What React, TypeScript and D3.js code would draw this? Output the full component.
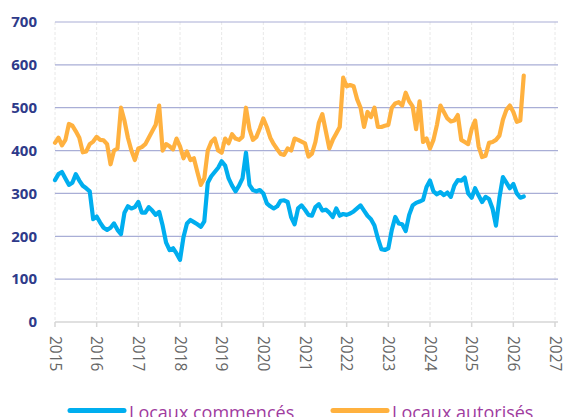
import React from "react";
import * as d3 from "d3";

// Monthly series, starting January 2015
const startYear = 2015;

const commences: number[] = [
    331, 345, 350, 335, 320, 325, 345, 330, 318, 312, 305, 240,
    246, 232, 220, 215, 220, 230, 215, 205, 255, 270, 265, 268,
    280, 255, 255, 268, 260, 250, 257, 225, 185, 168, 172, 160,
    145, 198, 230, 238, 233, 228, 222, 235, 325, 340, 350, 360,
    375, 365, 335, 318, 305, 318, 335, 395, 320, 308, 305, 308,
    300, 277, 270, 265, 270, 283, 284, 280, 245, 228, 265, 272,
    262, 250, 248, 268, 275, 260, 262, 255, 245, 265, 248, 252,
    250, 253, 258, 265, 272, 260, 248, 240, 225, 195, 170, 168,
    172, 215, 245, 230, 228, 212, 250, 272, 278, 281, 285, 315,
    330, 305, 298, 303, 296, 302, 292, 318, 331, 330, 337, 300,
    290, 312, 295, 280, 292, 287, 265, 225, 290, 338, 325, 312,
    322, 300, 290, 293,
];

const autorises: number[] = [
    418, 430, 412, 425, 462, 458, 445, 430, 396, 398, 415, 421,
    432, 425, 424, 415, 368, 400, 405, 500, 470, 430, 400, 378,
    405, 408, 415, 430, 445, 460, 505, 400, 415, 410, 403, 428,
    410, 382, 398, 378, 382, 350, 320, 335, 400, 420, 428, 400,
    395, 428, 417, 438, 428, 425, 432, 500, 450, 425, 432, 452,
    475, 455, 430, 415, 403, 392, 390, 405, 400, 428, 425, 421,
    417, 386, 393, 420, 465, 485, 445, 405, 425, 440, 455, 570,
    550, 553, 550, 520, 500, 455, 490, 478, 500, 455, 455, 458,
    460, 500, 510, 513, 505, 535, 515, 503, 450, 515, 420, 428,
    405, 425, 460, 505, 490, 475, 468, 470, 483, 425, 420, 415,
    450, 470, 410, 385, 388, 418, 420, 425, 435, 472, 495, 505,
    490, 467, 470, 575,
];

const yTicks = [0, 100, 200, 300, 400, 500, 600, 700];
const xTicks = d3.range(2015, 2028);

const seriesNames = ["Locaux commencés", "Locaux autorisés"];
const seriesColors = ["#00aeef", "#ffb13f"];

const W = 565;
const H = 417;

export default function App() {
    const x = d3.scaleLinear().domain([2015, 2027]).range([55, 555]);
    const y = d3.scaleLinear().domain([0, 700]).range([322, 22]);

    const line = d3.line<number>()
        .x((_, i) => x(startYear + i / 12))
        .y(d => y(d))
        .curve(d3.curveLinear);

    const series = [commences, autorises];

    return (
        <div style={{ position: "absolute", left: 0, top: 0 }}>
            <svg width={W} height={H} style={{ display: "block", background: "#fff" }}>
                {/* vertical year grid */}
                {xTicks.map(t => (
                    <line key={"v" + t} x1={x(t)} x2={x(t)} y1={y(700)} y2={y(0)}
                        stroke="#e8e8e8" strokeWidth={1} strokeDasharray="3,2" />
                ))}
                {/* horizontal grid */}
                {yTicks.map(t => (
                    <line key={"h" + t} x1={x(2015)} x2={x(2027) + 3} y1={y(t)} y2={y(t)}
                        stroke={t === 0 ? "#d6d6d6" : "#a9aed6"} strokeWidth={t === 0 ? 1.5 : 1.2} />
                ))}
                {/* x tick marks */}
                {xTicks.map(t => (
                    <line key={"t" + t} x1={x(t)} x2={x(t)} y1={y(0)} y2={y(0) + 5}
                        stroke="#d6d6d6" strokeWidth={1.5} />
                ))}
                {/* y labels */}
                {yTicks.map(t => (
                    <text key={"yl" + t} x={37} y={y(t)} dy="0.35em" textAnchor="end"
                        fontFamily="'Open Sans', sans-serif" fontWeight={700} fontSize={15}
                        fill="#2e3a8a">{t}</text>
                ))}
                {/* x labels, rotated */}
                {xTicks.map(t => (
                    <text key={"xl" + t} transform={`translate(${x(t)},${y(0) + 14}) rotate(90)`}
                        dy="0.35em" textAnchor="start"
                        fontFamily="'Open Sans', sans-serif" fontSize={15.5}
                        fill="#666666">{t}</text>
                ))}
                {/* lines */}
                {series.map((s, k) => (
                    <path key={"s" + k} d={line(s) || ""} fill="none" stroke={seriesColors[k]}
                        strokeWidth={4.2} strokeLinejoin="round" strokeLinecap="round" />
                ))}
                {/* legend */}
                {seriesNames.map((name, k) => {
                    const lx = k === 0 ? 70 : 333;
                    return (
                        <g key={"lg" + k}>
                            <line x1={lx} x2={lx + 54} y1={410.5} y2={410.5}
                                stroke={seriesColors[k]} strokeWidth={5} strokeLinecap="round" />
                            <text x={lx + 59} y={418.5} fontFamily="'Open Sans', sans-serif"
                                fontSize={18} fill="#a03ca0">{name}</text>
                        </g>
                    );
                })}
            </svg>
        </div>
    );
}
